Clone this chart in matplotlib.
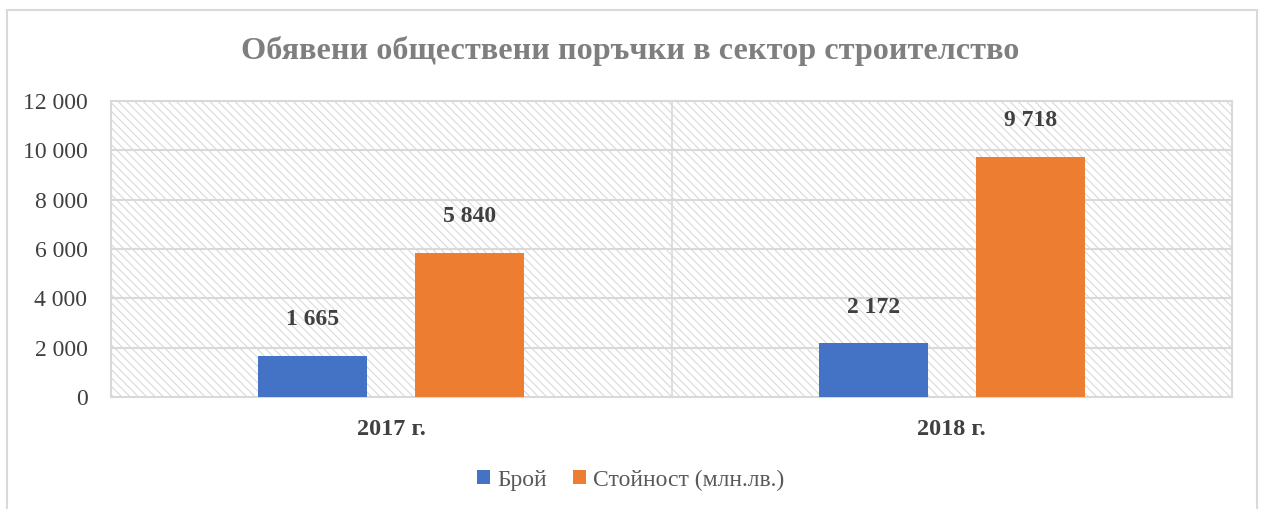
import matplotlib
matplotlib.use("Agg")
import matplotlib.pyplot as plt
from matplotlib.patches import Rectangle
import numpy as np

categories = ["2017 г.", "2018 г."]
series_names = ["Брой", "Стойност (млн.лв.)"]
broy = [1665, 2172]
stoynost = [5840, 9718]
yticks = [0, 2000, 4000, 6000, 8000, 10000, 12000]
title = "Обявени обществени поръчки в сектор строителство"

def fmt(v):
    return f"{v:,}".replace(",", " ")

plt.rcParams['font.family'] = ['Liberation Serif', 'DejaVu Serif']
plt.rcParams['hatch.color'] = '#d9d9d9'
plt.rcParams['hatch.linewidth'] = 0.8

W, H = 1261, 509
fig = plt.figure(figsize=(W / 100, H / 100), dpi=100)
fig.patch.set_facecolor('white')

# outer chart border
fig.patches.append(Rectangle((7 / W, -0.02), (1257 - 7) / W, 1 - 10 / H + 0.02,
                             transform=fig.transFigure, fill=False,
                             edgecolor='#d9d9d9', linewidth=1.5))

ax = fig.add_axes([111 / W, 1 - 397 / H, (1232 - 111) / W, (397 - 101) / H])
ax.set_facecolor('white')
ax.add_patch(Rectangle((0, 0), 1, 1, transform=ax.transAxes, facecolor='white',
                       edgecolor='#d9d9d9', linewidth=0, hatch='\\\\\\\\', zorder=0))

x = np.arange(len(categories))
bw = 0.195
off = 0.14
colors = ['#4472C4', '#ED7D31']
b1 = ax.bar(x - off, broy, bw, color=colors[0], label=series_names[0], zorder=3)
b2 = ax.bar(x + off, stoynost, bw, color=colors[1], label=series_names[1], zorder=3)

for bars, vals in ((b1, broy), (b2, stoynost)):
    for rect, v in zip(bars, vals):
        ax.text(rect.get_x() + rect.get_width() / 2, v + 1050, fmt(v),
                ha='center', va='bottom', fontsize=17, fontweight='bold',
                color='#404040', zorder=4)

ax.set_xlim(-0.5, 1.5)
ax.set_ylim(0, 12000)
ax.set_yticks(yticks)
ax.set_yticklabels([fmt(v) for v in yticks], fontsize=17, color='#404040')
ax.set_xticks(x)
ax.set_xticklabels(categories, fontsize=17.5, fontweight='bold', color='#404040')
ax.tick_params(axis='both', length=0)
ax.tick_params(axis='y', pad=17)
ax.tick_params(axis='x', pad=16)

for yv in yticks[1:]:
    ax.axhline(yv, color='#d9d9d9', linewidth=1.5, zorder=1)
ax.axvline(0.5, color='#d9d9d9', linewidth=1.2, zorder=1)

for s in ax.spines.values():
    s.set_color('#d9d9d9')
    s.set_linewidth(1.5)

fig.text(0.5, 1 - 51 / H, title, ha='center', va='center', fontsize=23.2,
         fontweight='bold', color='#7f7f7f')

leg = fig.legend(handles=[b1, b2], labels=series_names, loc='center',
                 bbox_to_anchor=(0.5, 1 - 480 / H), ncol=2, frameon=False,
                 fontsize=17, handlelength=0.55, handleheight=0.55,
                 handletextpad=0.3, columnspacing=1.1)
for t in leg.get_texts():
    t.set_color('#595959')

fig.savefig("out.png", dpi=100, facecolor='white')
